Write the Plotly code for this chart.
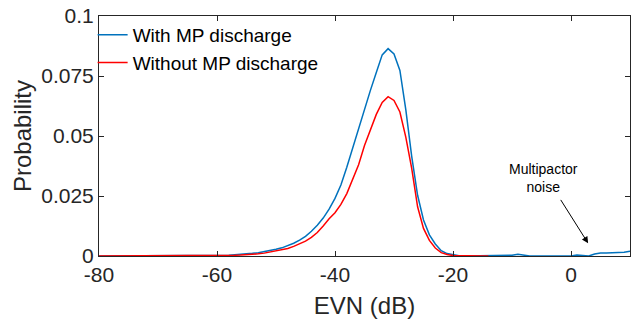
import plotly.graph_objects as go

# EVN bins (dB)
evn_with = [-80, -79, -78, -77, -76, -75, -74, -73, -72, -71, -70, -69, -68, -67, -66, -65, -64, -63, -62, -61,
            -60, -59, -58, -57, -56, -55, -54, -53, -52, -51, -50, -49, -48, -47, -46, -45, -44, -43, -42, -41,
            -40, -39, -38, -37, -36, -35, -34, -33, -32, -31, -30, -29, -28, -27, -26, -25, -24, -23, -22, -21,
            -20, -19, -18, -17, -16, -15, -14, -13, -12, -11, -10, -9, -8, -7, -6, -5, -4, -3, -2, -1,
            0, 1, 2, 3, 4, 5, 6, 7, 8, 9, 10]
prob_with = [0, 0, 0, 0, 0, 0, 0, 0, 0, 0, 0, 0, 0, 0, 0, 0, 0, 0, 0, 0,
             0.0001, 0.0002, 0.0003, 0.0005, 0.0006, 0.0008, 0.0011, 0.0014, 0.0018, 0.0023, 0.0028, 0.0034, 0.0042, 0.0053, 0.0066, 0.0082, 0.0103, 0.0128, 0.0158, 0.0195,
             0.0240, 0.0296, 0.0370, 0.0450, 0.0530, 0.0618, 0.0690, 0.0765, 0.0838, 0.0864, 0.0842, 0.0773, 0.0610, 0.0415, 0.0253, 0.0150, 0.0088, 0.0050, 0.0022, 0.0010,
             0.0004, 0.0001, 0, 0, 0, 0, 0, 0, 0, 0, 0.0003, 0.0007, 0.0003, 0, 0, 0, 0, 0, 0, 0,
             0, 0.0004, 0.0002, 0, 0.0008, 0.0012, 0.0012, 0.0013, 0.0014, 0.0016, 0.0020]

evn_without = [-80, -79, -78, -77, -76, -75, -74, -73, -72, -71, -70, -69, -68, -67, -66, -65, -64, -63, -62, -61,
               -60, -59, -58, -57, -56, -55, -54, -53, -52, -51, -50, -49, -48, -47, -46, -45, -44, -43, -42, -41,
               -40, -39, -38, -37, -36, -35, -34, -33, -32, -31, -30, -29, -28, -27, -26, -25, -24, -23, -22, -21,
               -20, -19, -18, -17, -16, -15, -14]
prob_without = [0, 0, 0, 0, 0, 0, 0, 0, 0, 0, 0, 0, 0, 0, 0, 0, 0, 0, 0, 0,
                0.0001, 0.0001, 0.0002, 0.0003, 0.0004, 0.0005, 0.0007, 0.0009, 0.0012, 0.0016, 0.0020, 0.0026, 0.0031, 0.0040, 0.0050, 0.0062, 0.0078, 0.0098, 0.0125, 0.0155,
                0.0180, 0.0215, 0.0260, 0.0320, 0.0380, 0.0460, 0.0525, 0.0590, 0.0640, 0.0664, 0.0648, 0.0600, 0.0495, 0.0365, 0.0205, 0.0115, 0.0065, 0.0033, 0.0014, 0.0006,
                0.0002, 0.0001, 0, 0, 0, 0, 0]

y_ticks = [0, 0.025, 0.05, 0.075, 0.1]
y_tick_labels = ["0", "0.025", "0.05", "0.075", "0.1"]
x_ticks = [-80, -60, -40, -20, 0]
x_tick_labels = ["-80", "-60", "-40", "-20", "0"]

FONT = "Liberation Sans, Arial, sans-serif"
AXIS_COLOR = "#262626"

fig = go.Figure()
fig.add_trace(go.Scatter(x=evn_with, y=prob_with, mode="lines", name="With MP discharge",
                         line=dict(color="#0072BD", width=1.5)))
fig.add_trace(go.Scatter(x=evn_without, y=prob_without, mode="lines", name="Without MP discharge",
                         line=dict(color="#FF0000", width=1.5)))

fig.add_annotation(x=-4.6, y=0.0325, xref="x", yref="y", text="Multipactor<br>noise",
                   showarrow=False, font=dict(family=FONT, size=14, color="black"))
fig.add_annotation(x=2.9, y=0.0053, xref="x", yref="y", ax=-1.9, ay=0.024, axref="x", ayref="y",
                   text="", showarrow=True, arrowhead=2, arrowsize=1.3, arrowwidth=1, arrowcolor="black")

axis_common = dict(showgrid=False, zeroline=False, showline=True, linecolor=AXIS_COLOR, linewidth=1,
                   mirror="ticks", ticks="inside", ticklen=5, tickcolor=AXIS_COLOR, automargin=False,
                   tickfont=dict(family=FONT, size=21, color="#262626"))

fig.update_layout(
    width=636, height=320,
    margin=dict(l=99, r=6, t=16, b=64),
    paper_bgcolor="white", plot_bgcolor="white",
    font=dict(family=FONT, color="#262626"),
    showlegend=True,
    legend=dict(x=-0.012, y=1.0, xanchor="left", yanchor="top", bgcolor="rgba(0,0,0,0)",
                borderwidth=0, font=dict(family=FONT, size=19, color="black"),
                tracegroupgap=0),
    xaxis=dict(range=[-80, 10], tickvals=x_ticks, ticktext=x_tick_labels,
               title=dict(text="EVN (dB)", font=dict(family=FONT, size=24, color="#262626"), standoff=11),
               **axis_common),
    yaxis=dict(range=[0, 0.1], tickvals=y_ticks, ticktext=y_tick_labels,
               title=dict(text="Probability", font=dict(family=FONT, size=24, color="#262626"), standoff=2),
               **axis_common),
)

fig.write_html("out.html", config={"displayModeBar": False},
               post_script="document.body.style.margin='0';document.body.style.overflow='hidden';")
